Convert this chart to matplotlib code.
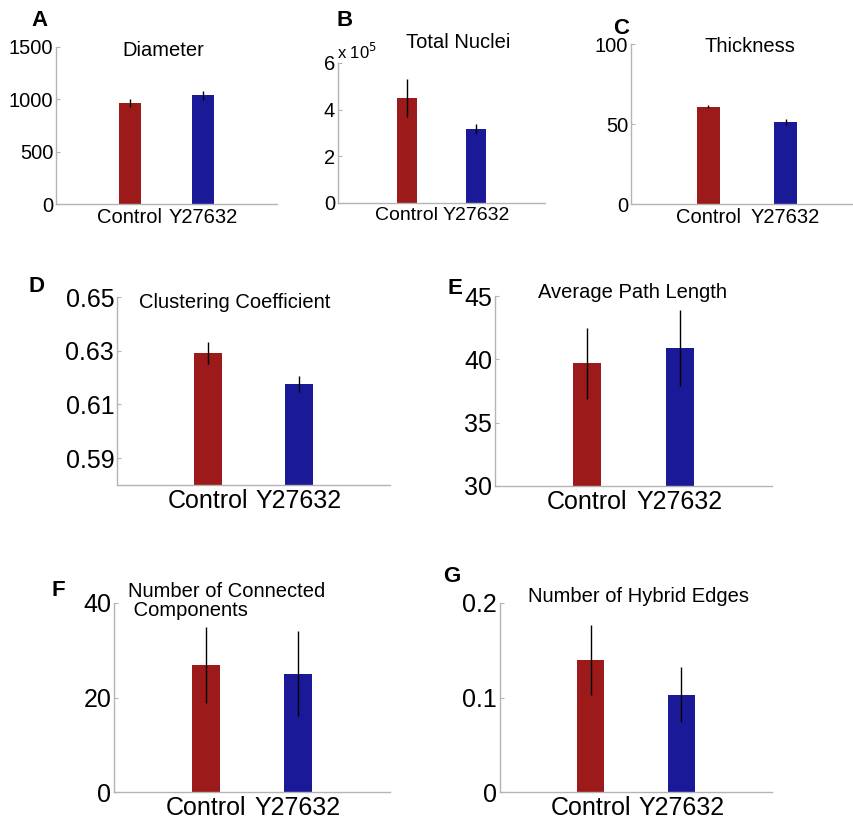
import matplotlib
matplotlib.use("Agg")
import matplotlib.pyplot as plt

plt.rcParams['font.family'] = ['Liberation Sans', 'DejaVu Sans']

W, H = 854, 824
RED = '#9c1a1a'
BLUE = '#1a1a99'
SPINE = '#b4b4b4'

groups = ["Control", "Y27632"]

diameter = [965, 1038]
diameter_err = [40, 45]

nuclei = [450000, 318000]
nuclei_err = [80000, 22000]

thickness = [60.8, 51.2]
thickness_err = [1.0, 1.8]

clustering = [0.6291, 0.6177]
clustering_err = [0.0040, 0.0030]

path_length = [39.7, 40.9]
path_length_err = [2.8, 3.0]

components = [26.9, 25.0]
components_err = [8.0, 9.0]

hybrid = [0.140, 0.103]
hybrid_err = [0.037, 0.029]


def px_axes(fig, left, right, top, bottom):
    return fig.add_axes([left / W, 1 - bottom / H, (right - left) / W, (bottom - top) / H])


def px_text(fig, x, y, s, **kw):
    fig.text(x / W, 1 - y / H, s, **kw)


def bar_panel(ax, vals, errs, ylim, yticks, yticklabels, fs):
    ax.bar([1, 2], vals, width=0.3, color=[RED, BLUE], edgecolor='none', zorder=2)
    ax.errorbar([1, 2], vals, yerr=errs, fmt='none', ecolor='black',
                elinewidth=1.0, capsize=0, zorder=3)
    ax.set_xlim(0, 3)
    ax.set_ylim(*ylim)
    ax.set_yticks(yticks)
    ax.set_yticklabels(yticklabels)
    ax.set_xticks([1, 2])
    ax.set_xticklabels(groups)
    for s in ['top', 'right']:
        ax.spines[s].set_visible(False)
    for s in ['left', 'bottom']:
        ax.spines[s].set_color(SPINE)
        ax.spines[s].set_linewidth(1.0)
    ax.tick_params(axis='y', direction='in', length=3, color=SPINE, labelsize=fs, pad=2)
    ax.tick_params(axis='x', length=0, labelsize=fs, pad=3)


fig = plt.figure(figsize=(W / 100, H / 100), dpi=100)

small = 14.5
big = 18
title_fs = 14.5
letter_fs = 16

# A
ax = px_axes(fig, 56, 277, 47, 204)
bar_panel(ax, diameter, diameter_err, (0, 1500), [0, 500, 1000, 1500],
          ['0', '500', '1000', '1500'], small)
px_text(fig, 163, 50, "Diameter", ha='center', va='center', fontsize=title_fs)
px_text(fig, 40, 21, "A", ha='center', va='center', fontsize=letter_fs, fontweight='bold')

# B
ax = px_axes(fig, 338, 545, 63, 203)
bar_panel(ax, nuclei, nuclei_err, (0, 600000), [0, 200000, 400000, 600000],
          ['0', '2', '4', '6'], small)
ax.tick_params(axis='x', labelsize=14)
px_text(fig, 337, 52, r"x 10$^{5}$", ha='left', va='center', fontsize=12)
px_text(fig, 458, 42, "Total Nuclei", ha='center', va='center', fontsize=title_fs)
px_text(fig, 345, 20, "B", ha='center', va='center', fontsize=letter_fs, fontweight='bold')

# C
ax = px_axes(fig, 631, 863, 44, 204)
bar_panel(ax, thickness, thickness_err, (0, 100), [0, 50, 100],
          ['0', '50', '100'], small)
px_text(fig, 750, 47, "Thickness", ha='center', va='center', fontsize=title_fs)
px_text(fig, 621, 28, "C", ha='center', va='center', fontsize=letter_fs, fontweight='bold')

# D
ax = px_axes(fig, 117, 390, 297, 485)
bar_panel(ax, clustering, clustering_err, (0.58, 0.65), [0.59, 0.61, 0.63, 0.65],
          ['0.59', '0.61', '0.63', '0.65'], big)
px_text(fig, 235, 303, "Clustering Coefficient", ha='center', va='center', fontsize=title_fs)
px_text(fig, 37, 287, "D", ha='center', va='center', fontsize=letter_fs, fontweight='bold')

# E
ax = px_axes(fig, 495, 772, 296, 486)
bar_panel(ax, path_length, path_length_err, (30, 45), [30, 35, 40, 45],
          ['30', '35', '40', '45'], big)
px_text(fig, 632, 293, "Average Path Length", ha='center', va='center', fontsize=title_fs)
px_text(fig, 455, 289, "E", ha='center', va='center', fontsize=letter_fs, fontweight='bold')

# F
ax = px_axes(fig, 114, 390, 603, 792)
bar_panel(ax, components, components_err, (0, 40), [0, 20, 40],
          ['0', '20', '40'], big)
px_text(fig, 128, 601, "Number of Connected\n Components", ha='left', va='center',
        fontsize=title_fs, linespacing=0.95)
px_text(fig, 58, 591, "F", ha='center', va='center', fontsize=letter_fs, fontweight='bold')

# G
ax = px_axes(fig, 500, 772, 603, 792)
bar_panel(ax, hybrid, hybrid_err, (0, 0.2), [0, 0.1, 0.2],
          ['0', '0.1', '0.2'], big)
px_text(fig, 638, 596, "Number of Hybrid Edges", ha='center', va='center', fontsize=title_fs)
px_text(fig, 452, 577, "G", ha='center', va='center', fontsize=letter_fs, fontweight='bold')

fig.savefig("out.png", dpi=100)
